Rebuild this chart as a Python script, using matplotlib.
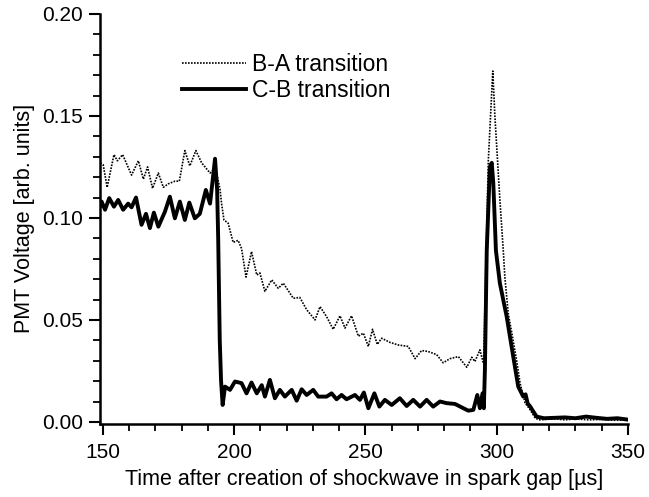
import numpy as np
import matplotlib.pyplot as plt
from matplotlib.ticker import MultipleLocator

plt.rcParams['font.family'] = ['Liberation Sans', 'DejaVu Sans']

# B-A transition (dotted)
t_ba = [149.0, 150.1, 151.6, 154.2, 155.5, 157.5, 160.9, 163.5, 165.4, 167.0,
        168.9, 171.1, 173.0, 174.9, 177.4, 179.1, 181.2, 183.1, 185.4, 187.6,
        190.8, 192.5, 193.3, 194.6, 195.2, 196.1, 197.7, 199.6, 201.5, 202.8,
        204.5, 206.6, 208.6, 209.8, 211.7, 214.3, 216.8, 218.7, 222.5, 225.0,
        227.6, 230.8, 232.7, 235.2, 237.7, 240.3, 242.2, 244.7, 247.3, 249.2,
        251.1, 252.7, 254.5, 256.2, 259.3, 262.5, 266.3, 268.9, 271.4, 273.9,
        277.1, 279.6, 282.2, 285.4, 288.6, 290.5, 291.7, 293.6, 294.6, 295.0,
        296.8, 298.5, 299.3, 301.2, 302.5, 303.1, 304.4, 305.7, 307.6, 308.9,
        310.8, 312.7, 314.6, 316.0, 318.0, 322.0, 326.0, 330.0, 335.0, 340.0,
        345.0, 350.0]
v_ba = [0.127, 0.126, 0.115, 0.131, 0.128, 0.131, 0.121, 0.128, 0.119, 0.125,
        0.1145, 0.122, 0.115, 0.1167, 0.118, 0.118, 0.133, 0.1255, 0.133, 0.127,
        0.122, 0.124, 0.122, 0.114, 0.107, 0.099, 0.0974, 0.088, 0.089, 0.085,
        0.071, 0.0835, 0.072, 0.073, 0.064, 0.0696, 0.0655, 0.068, 0.0606, 0.061,
        0.055, 0.050, 0.0565, 0.0516, 0.0454, 0.052, 0.046, 0.052, 0.042, 0.0435,
        0.037, 0.0454, 0.038, 0.041, 0.039, 0.0377, 0.037, 0.031, 0.035, 0.0345,
        0.033, 0.029, 0.031, 0.032, 0.0268, 0.0317, 0.0296, 0.0353, 0.0304, 0.0288,
        0.128, 0.172, 0.150, 0.109, 0.084, 0.071, 0.053, 0.044, 0.030, 0.019,
        0.0093, 0.006, 0.002, 0.001, 0.0012, 0.0015, 0.001, 0.0015, 0.001, 0.0012,
        0.0008, 0.001]

# C-B transition (solid)
t_cb = [149.0, 149.5, 150.8, 152.4, 154.2, 155.8, 157.7, 159.6, 160.9, 162.6,
        164.7, 166.4, 167.9, 169.4, 171.1, 173.6, 175.5, 177.4, 179.3, 181.2,
        182.9, 185.0, 186.9, 189.2, 190.8, 192.7, 193.5, 193.9, 194.5, 195.0,
        195.6, 196.5, 198.4, 200.3, 202.8, 204.7, 206.6, 208.6, 210.5, 211.7,
        213.6, 215.5, 217.4, 219.3, 221.9, 223.8, 225.7, 227.6, 230.1, 232.0,
        235.2, 237.1, 239.0, 240.9, 242.8, 246.0, 247.9, 249.4, 251.1, 253.4,
        255.3, 257.4, 260.0, 263.1, 265.7, 268.2, 270.8, 273.3, 275.8, 278.4,
        280.9, 284.1, 287.3, 289.2, 291.1, 292.6, 293.6, 294.6, 295.1, 295.5,
        296.2, 297.4, 298.1, 298.7, 299.7, 301.2, 303.8, 306.3, 308.2, 310.1,
        311.0, 311.8, 312.8, 313.5, 315.2, 318.0, 322.0, 326.0, 330.0, 334.0,
        338.0, 342.0, 346.0, 350.0]
v_cb = [0.106, 0.108, 0.104, 0.1097, 0.1055, 0.1088, 0.104, 0.107, 0.1052, 0.110,
        0.0966, 0.102, 0.095, 0.1026, 0.0957, 0.103, 0.1104, 0.0998, 0.108, 0.099,
        0.1075, 0.0998, 0.102, 0.1137, 0.107, 0.129, 0.1137, 0.09, 0.04, 0.02,
        0.0083, 0.0173, 0.0157, 0.0198, 0.019, 0.014, 0.0193, 0.014, 0.018, 0.0124,
        0.0206, 0.0116, 0.0157, 0.0124, 0.0157, 0.0104, 0.016, 0.0132, 0.0157, 0.0124,
        0.0124, 0.014, 0.0111, 0.0132, 0.0111, 0.0132, 0.0108, 0.0144, 0.0067, 0.014,
        0.0075, 0.0108, 0.0083, 0.0116, 0.0078, 0.0108, 0.0075, 0.0108, 0.0075, 0.010,
        0.0092, 0.0088, 0.0067, 0.0055, 0.0059, 0.0132, 0.0067, 0.014, 0.0067, 0.0255,
        0.084, 0.125, 0.127, 0.117, 0.084, 0.068, 0.0516, 0.032, 0.0173, 0.0124,
        0.0135, 0.009, 0.0075, 0.006, 0.0026, 0.0018, 0.002, 0.0022, 0.0018, 0.0026,
        0.002, 0.0015, 0.0018, 0.0011]

fig = plt.figure(figsize=(6.49, 4.97), dpi=100)
ax = fig.add_axes([0.154, 0.147, 0.8136, 0.825])

ax.plot(t_ba, v_ba, color='black', lw=1.2, linestyle=(0, (1, 0.8)), label='B-A transition')
ax.plot(t_cb, v_cb, color='black', lw=2.8, solid_joinstyle='round', label='C-B transition')

ax.set_xlim(148.86, 350)
ax.set_ylim(-0.001, 0.2)
ax.xaxis.set_major_locator(MultipleLocator(50))
ax.xaxis.set_minor_locator(MultipleLocator(10))
ax.yaxis.set_major_locator(MultipleLocator(0.05))
ax.yaxis.set_minor_locator(MultipleLocator(0.01))
ax.yaxis.set_major_formatter(plt.FormatStrFormatter('%.2f'))

for s in ['top', 'right']:
    ax.spines[s].set_visible(False)
for s in ['left', 'bottom']:
    ax.spines[s].set_linewidth(1.8)
ax.tick_params(which='major', direction='out', length=8, width=1.5, labelsize=15, pad=4)
ax.tick_params(which='minor', direction='out', length=5, width=1.3)
ax.tick_params(axis='x', which='major', pad=6)

ax.set_xlabel('Time after creation of shockwave in spark gap [µs]', fontsize=15.5, labelpad=5)
ax.set_ylabel('PMT Voltage [arb. units]', fontsize=15.5, labelpad=5)

ax.legend(loc='upper left', bbox_to_anchor=(0.155, 0.905), frameon=False, fontsize=16.5,
          handlelength=2.8, handletextpad=0.25, borderpad=0, borderaxespad=0,
          labelspacing=0.12)

fig.savefig('out.png', dpi=100)
